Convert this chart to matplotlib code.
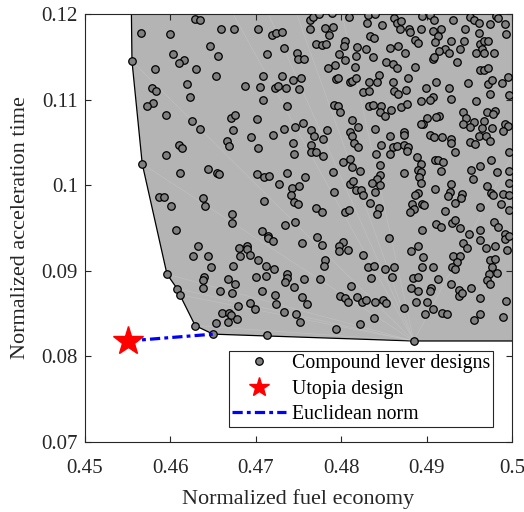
import matplotlib

matplotlib.use("Agg")
import matplotlib.pyplot as plt
from matplotlib.lines import Line2D

# compound lever designs (normalized fuel economy, normalized acceleration time)
fuel_economy = [
    # upper left block
    0.4629, 0.4635, 0.4566, 0.4599, 0.4659, 0.4646, 0.4603, 0.4616, 0.4610, 0.4656,
    0.4555, 0.4582, 0.4630, 0.4653, 0.4619, 0.4579, 0.4583, 0.4623, 0.4580, 0.4573,
    0.4595, 0.4625, 0.4635, 0.4610, 0.4614,
    # upper middle block
    0.4675, 0.4702, 0.4719, 0.4724, 0.4731, 0.4733, 0.4713, 0.4748, 0.4749, 0.4756,
    0.4764, 0.4767, 0.4774, 0.4789, 0.4809, 0.4764, 0.4781, 0.4790, 0.4786, 0.4770,
    0.4778, 0.4782, 0.4804, 0.4803, 0.4798, 0.4805, 0.4818, 0.4817, 0.4793, 0.4784,
    0.4816, 0.4794, 0.4796, 0.4810, 0.4813, 0.4817, 0.4708, 0.4731, 0.4744, 0.4753,
    0.4687, 0.4705, 0.4723, 0.4726, 0.4735, 0.4751, 0.4709, 0.4737, 0.4791, 0.4796,
    0.4799, 0.4825, 0.4671, 0.4676, 0.4701, 0.4673, 0.4666, 0.4669, 0.4694, 0.4703,
    0.4720, 0.4733, 0.4746, 0.4755, 0.4744, 0.4765, 0.4768, 0.4783, 0.4779, 0.4765,
    0.4813, 0.4820, 0.4810, 0.4813, 0.4815, 0.4820,
    # upper right block
    0.4831, 0.4840, 0.4830, 0.4848, 0.4862, 0.4865, 0.4870, 0.4869, 0.4879, 0.4881,
    0.4895, 0.4904, 0.4909, 0.4894, 0.4908, 0.4917, 0.4913, 0.4910, 0.4931, 0.4929,
    0.4945, 0.4951, 0.4956, 0.4961, 0.4981, 0.4984, 0.4974, 0.4992, 0.4993, 0.4961,
    0.4944, 0.4963, 0.4967, 0.4972, 0.4965, 0.4967, 0.4958, 0.4979, 0.4939, 0.4936,
    0.4921, 0.4926, 0.4915, 0.4907, 0.4909, 0.4887, 0.4890, 0.4867, 0.4857, 0.4875,
    0.4834, 0.4838, 0.4829, 0.4837, 0.4853, 0.4861, 0.4865, 0.4887, 0.4963, 0.4967,
    0.4972, 0.4844, 0.4833, 0.4842, 0.4861, 0.4878, 0.4899, 0.4911, 0.4926, 0.4948,
    0.4972, 0.4977, 0.4988, 0.4995, 0.4833, 0.4862, 0.4867, 0.4876, 0.4974, 0.4997,
    0.4907, 0.4904, 0.4894, 0.4929, 0.4958, 0.4833, 0.4837, 0.4847, 0.4870, 0.4877,
    0.4846, 0.4851, 0.4858, 0.4943, 0.4946, 0.4943, 0.4955, 0.4967, 0.4971, 0.4980,
    0.4978, 0.4992, 0.4995, 0.4951, 0.4965, 0.4977, 0.4989, 0.4915, 0.4911, 0.4900,
    0.4896, 0.4894, 0.4840, 0.4874, 0.4873, 0.4857, 0.4904, 0.4909, 0.4918, 0.4928,
    0.4929, 0.4961, 0.4969, 0.4974, 0.4951, 0.4957, 0.4847, 0.4861, 0.4865, 0.4874,
    0.4878,
    # middle left block
    0.4595, 0.4567, 0.4611, 0.4644, 0.4655, 0.4657, 0.4587, 0.4593, 0.4601, 0.4638,
    0.4641, 0.4607, 0.4632, 0.4627, 0.4644, 0.4648, 0.4596, 0.4639, 0.4638, 0.4608,
    0.4638,
    # centre block
    0.4745, 0.4765, 0.4771, 0.4779, 0.4802, 0.4810, 0.4813, 0.4822, 0.4790, 0.4701,
    0.4710, 0.4715, 0.4736, 0.4758, 0.4727, 0.4742, 0.4751, 0.4741, 0.4745, 0.4749,
    0.4710, 0.4770, 0.4778, 0.4810, 0.4814, 0.4817, 0.4823, 0.4825, 0.4791, 0.4804,
    0.4809, 0.4672, 0.4672, 0.4734, 0.4746, 0.4707, 0.4714, 0.4714, 0.4720, 0.4772,
    0.4754, 0.4778, 0.4802, 0.4798, 0.4797, 0.4808, 0.4826, 0.4680, 0.4690, 0.4690,
    0.4681, 0.4693, 0.4702, 0.4673, 0.4712, 0.4721, 0.4781, 0.4780, 0.4667, 0.4676,
    0.4700, 0.4712, 0.4736, 0.4737, 0.4734, 0.4757, 0.4775, 0.4745, 0.4811,
    # middle right block
    0.4841, 0.4857, 0.4877, 0.4889, 0.4894, 0.4890, 0.4893, 0.4891, 0.4893, 0.4910,
    0.4913, 0.4919, 0.4917, 0.4933, 0.4845, 0.4874, 0.4952, 0.4963, 0.4975, 0.4983,
    0.4997, 0.4997, 0.4954, 0.4845, 0.4842, 0.4836, 0.4845, 0.4840, 0.4834, 0.4844,
    0.4842, 0.4890, 0.4887, 0.4883, 0.4885, 0.4880, 0.4895, 0.4897, 0.4910, 0.4929,
    0.4927, 0.4925, 0.4933, 0.4942, 0.4940, 0.4921, 0.4971, 0.4975, 0.4978, 0.4989,
    0.4997, 0.4997, 0.4963, 0.4987, 0.4997, 0.4911, 0.4917, 0.4930, 0.4933, 0.4939,
    0.4895, 0.4856, 0.4950, 0.4962, 0.4962, 0.4979, 0.4984, 0.4992, 0.4992, 0.4997,
    0.4943, 0.4947, 0.4970, 0.4980, 0.4890, 0.4882, 0.4896, 0.4931, 0.4939, 0.4936,
    0.4930, 0.4933, 0.4974, 0.4980, 0.4977, 0.4982, 0.4973, 0.4971, 0.4974, 0.4994,
    0.4831, 0.4838, 0.4835, 0.4851, 0.4859, 0.4862, 0.4895, 0.4908, 0.4884, 0.4890,
    0.4913, 0.4928, 0.4882, 0.4905, 0.4938, 0.4952,
    # bottom row
    0.4611, 0.4658, 0.4661, 0.4653, 0.4629, 0.4650, 0.4672, 0.4707, 0.4722, 0.4754,
    0.4760, 0.4669, 0.4671, 0.4667, 0.4678, 0.4679, 0.4693, 0.4699, 0.4724, 0.4733,
    0.4747, 0.4752, 0.4799, 0.4804, 0.4808, 0.4819, 0.4824, 0.4822, 0.4794, 0.4713,
    0.4829, 0.4840, 0.4849, 0.4853, 0.4838, 0.4873, 0.4888, 0.4900, 0.4898, 0.4908,
    0.4918, 0.4924, 0.4890, 0.4904, 0.4938, 0.4942, 0.4962, 0.4956, 0.4963, 0.4989,
    0.4993, 0.4885,
]
accel_time = [
    # upper left block
    0.1194, 0.1193, 0.1178, 0.1177, 0.1182, 0.1163, 0.1153, 0.1146, 0.1143, 0.1151,
    0.1145, 0.1136, 0.1136, 0.1128, 0.1118, 0.1113, 0.1110, 0.1103, 0.1096, 0.1092,
    0.1082, 0.1075, 0.1066, 0.1047, 0.1043,
    # upper middle block
    0.1182, 0.1183, 0.1176, 0.1178, 0.1179, 0.1160, 0.1153, 0.1155, 0.1147, 0.1148,
    0.1193, 0.1196, 0.1200, 0.1201, 0.1197, 0.1183, 0.1184, 0.1185, 0.1176, 0.1165,
    0.1164, 0.1165, 0.1168, 0.1163, 0.1153, 0.1146, 0.1161, 0.1151, 0.1141, 0.1137,
    0.1138, 0.1124, 0.1125, 0.1121, 0.1122, 0.1125, 0.1127, 0.1128, 0.1123, 0.1125,
    0.1116, 0.1115, 0.1114, 0.1116, 0.1114, 0.1112, 0.1100, 0.1093, 0.1094, 0.1092,
    0.1085, 0.1109, 0.1079, 0.1082, 0.1077, 0.1065, 0.1052, 0.1046, 0.1056, 0.1043,
    0.1059, 0.1066, 0.1068, 0.1073, 0.1049, 0.1065, 0.1058, 0.1064, 0.1054, 0.1047,
    0.1076, 0.1068, 0.1062, 0.1058, 0.1049, 0.1045,
    # upper right block
    0.1199, 0.1200, 0.1189, 0.1187, 0.1195, 0.1190, 0.1192, 0.1183, 0.1182, 0.1179,
    0.1198, 0.1199, 0.1193, 0.1182, 0.1180, 0.1183, 0.1174, 0.1167, 0.1193, 0.1169,
    0.1183, 0.1197, 0.1193, 0.1190, 0.1198, 0.1195, 0.1188, 0.1188, 0.1177, 0.1178,
    0.1169, 0.1165, 0.1168, 0.1169, 0.1159, 0.1154, 0.1154, 0.1155, 0.1159, 0.1144,
    0.1159, 0.1154, 0.1157, 0.1148, 0.1150, 0.1170, 0.1166, 0.1163, 0.1160, 0.1154,
    0.1174, 0.1172, 0.1159, 0.1150, 0.1144, 0.1142, 0.1137, 0.1138, 0.1135, 0.1134,
    0.1137, 0.1129, 0.1121, 0.1120, 0.1120, 0.1125, 0.1114, 0.1121, 0.1114, 0.1119,
    0.1118, 0.1123, 0.1119, 0.1126, 0.1110, 0.1110, 0.1107, 0.1111, 0.1106, 0.1105,
    0.1103, 0.1099, 0.1098, 0.1101, 0.1098, 0.1093, 0.1094, 0.1093, 0.1091, 0.1095,
    0.1085, 0.1081, 0.1088, 0.1085, 0.1078, 0.1071, 0.1074, 0.1075, 0.1086, 0.1087,
    0.1083, 0.1071, 0.1069, 0.1068, 0.1067, 0.1067, 0.1063, 0.1081, 0.1080, 0.1078,
    0.1072, 0.1072, 0.1066, 0.1062, 0.1059, 0.1058, 0.1059, 0.1056, 0.1056, 0.1054,
    0.1049, 0.1058, 0.1058, 0.1052, 0.1051, 0.1048, 0.1047, 0.1045, 0.1046, 0.1047,
    0.1045,
    # middle left block
    0.1035, 0.1025, 0.1014, 0.1019, 0.1014, 0.1013, 0.0986, 0.0986, 0.0976, 0.0985,
    0.0976, 0.0948, 0.0929, 0.0917, 0.0917, 0.0904, 0.0896, 0.0893, 0.0889, 0.0879,
    0.0880,
    # centre block
    0.1036, 0.1039, 0.1039, 0.1034, 0.1027, 0.1031, 0.1021, 0.1017, 0.1015, 0.1013,
    0.1010, 0.1011, 0.1014, 0.1010, 0.1001, 0.0997, 0.0999, 0.0988, 0.0980, 0.0978,
    0.0982, 0.0973, 0.0969, 0.1001, 0.1005, 0.0994, 0.0994, 0.0989, 0.0992, 0.0969,
    0.0971, 0.0966, 0.0956, 0.0954, 0.0957, 0.0946, 0.0941, 0.0938, 0.0935, 0.0939,
    0.0932, 0.0930, 0.0934, 0.0929, 0.0923, 0.0924, 0.0918, 0.0927, 0.0929, 0.0925,
    0.0917, 0.0918, 0.0913, 0.0906, 0.0906, 0.0902, 0.0913, 0.0906, 0.0890, 0.0885,
    0.0893, 0.0894, 0.0896, 0.0892, 0.0887, 0.0890, 0.0890, 0.0881, 0.0882,
    # middle right block
    0.1037, 0.1037, 0.1040, 0.1033, 0.1025, 0.1018, 0.1016, 0.1009, 0.1002, 0.1029,
    0.1029, 0.1027, 0.1017, 0.1039, 0.1024, 0.1014, 0.1018, 0.1022, 0.1029, 0.1015,
    0.1039, 0.1017, 0.1007, 0.1012, 0.1007, 0.1002, 0.1000, 0.0992, 0.0979, 0.0973,
    0.0966, 0.0991, 0.0988, 0.0978, 0.0972, 0.0969, 0.0978, 0.0977, 0.0996, 0.1001,
    0.0992, 0.0987, 0.0979, 0.0990, 0.0985, 0.0970, 0.0999, 0.0991, 0.0988, 0.0990,
    0.0989, 0.1003, 0.0975, 0.0978, 0.0971, 0.0955, 0.0951, 0.0956, 0.0959, 0.0950,
    0.0948, 0.0938, 0.0943, 0.0948, 0.0936, 0.0957, 0.0951, 0.0943, 0.0937, 0.0941,
    0.0933, 0.0927, 0.0927, 0.0929, 0.0929, 0.0923, 0.0916, 0.0917, 0.0917, 0.0910,
    0.0905, 0.0902, 0.0913, 0.0914, 0.0905, 0.0898, 0.0896, 0.0889, 0.0884, 0.0924,
    0.0905, 0.0906, 0.0892, 0.0902, 0.0893, 0.0904, 0.0904, 0.0904, 0.0892, 0.0893,
    0.0891, 0.0885, 0.0880, 0.0880, 0.0878, 0.0880,
    # bottom row
    0.0872, 0.0876, 0.0851, 0.0839, 0.0836, 0.0826, 0.0874, 0.0876, 0.0872, 0.0869,
    0.0861, 0.0851, 0.0848, 0.0840, 0.0844, 0.0859, 0.0862, 0.0855, 0.0861, 0.0852,
    0.0849, 0.0840, 0.0871, 0.0868, 0.0863, 0.0869, 0.0864, 0.0838, 0.0832, 0.0825,
    0.0866, 0.0863, 0.0866, 0.0862, 0.0845, 0.0856, 0.0863, 0.0864, 0.0850, 0.0855,
    0.0851, 0.0849, 0.0876, 0.0876, 0.0870, 0.0874, 0.0868, 0.0843, 0.0850, 0.0846,
    0.0865, 0.0818,
]

# boundary of the design region (vertices above 0.12 / right of 0.5 lie off-axis)
hull_x = [0.4550, 0.4555, 0.4567, 0.4596, 0.4608, 0.4611, 0.4629, 0.4650, 0.4885,
          0.5300, 0.5300, 0.4779, 0.4712, 0.4618]
hull_y = [0.1570, 0.1145, 0.1025, 0.0896, 0.0879, 0.0872, 0.0836, 0.0826, 0.0818,
          0.0818, 0.1600, 0.1300, 0.1300, 0.1300]
fan_vertex = 8  # patch triangulation seams start here

utopia = (0.4550, 0.0818)
norm_end = (0.4650, 0.0826)

x_ticks = [0.45, 0.46, 0.47, 0.48, 0.49, 0.50]
x_tick_labels = ["0.45", "0.46", "0.47", "0.48", "0.49", "0.5"]
y_ticks = [0.07, 0.08, 0.09, 0.10, 0.11, 0.12]
y_tick_labels = ["0.07", "0.08", "0.09", "0.1", "0.11", "0.12"]

plt.rcParams["font.family"] = ["Liberation Serif", "DejaVu Serif"]
dark = "#262626"

fig = plt.figure(figsize=(5.24, 5.12), dpi=100)
ax = fig.add_axes([85 / 524, 70 / 512, 427 / 524, 428 / 512])

ax.fill(hull_x, hull_y, facecolor="#b4b4b4", edgecolor="black", linewidth=0.9, zorder=1)
n = len(hull_x)
for i in range(n):
    if i in (fan_vertex, (fan_vertex - 1) % n, (fan_vertex + 1) % n):
        continue
    ax.plot([hull_x[fan_vertex], hull_x[i]], [hull_y[fan_vertex], hull_y[i]],
            color="white", alpha=0.15, linewidth=0.5, zorder=1.5)

ax.plot(fuel_economy, accel_time, linestyle="none", marker="o", markersize=5.4,
        markerfacecolor="#808080", markeredgecolor="black", markeredgewidth=0.9, zorder=3)

ax.plot([utopia[0], norm_end[0]], [utopia[1], norm_end[1]], color="blue",
        linewidth=2.3, dashes=(3.2, 1.3, 1.2, 1.3), zorder=4)
ax.plot(utopia[0], utopia[1], linestyle="none", marker="*", markersize=22,
        color="red", zorder=5)

ax.set_xlim(0.45, 0.5)
ax.set_ylim(0.07, 0.12)
ax.set_xticks(x_ticks, x_tick_labels)
ax.set_yticks(y_ticks, y_tick_labels)
ax.tick_params(direction="in", top=True, right=True, length=4.5, width=0.8,
               labelsize=15, colors=dark)
ax.tick_params(axis="x", pad=12)
ax.tick_params(axis="y", pad=5)
for s in ax.spines.values():
    s.set_color(dark)
    s.set_linewidth(0.8)

ax.set_xlabel("Normalized fuel economy", fontsize=16, color=dark, labelpad=8)
ax.set_ylabel("Normalized acceleration time", fontsize=16, color=dark, labelpad=8)

handles = [
    Line2D([], [], linestyle="none", marker="o", markersize=5.4, markerfacecolor="#808080",
           markeredgecolor="black", markeredgewidth=0.9),
    Line2D([], [], linestyle="none", marker="*", markersize=15, color="red"),
    Line2D([], [], color="blue", linewidth=2.3, dashes=(3.2, 1.3, 1.2, 1.3)),
]
labels = ["Compound lever designs", "Utopia design", "Euclidean norm"]
leg = ax.legend(handles, labels, loc="lower right", bbox_to_anchor=(0.955, 0.035),
                borderaxespad=0, fontsize=14.3, handlelength=2.7, handletextpad=0.3,
                labelspacing=0.32, borderpad=0.15, fancybox=False, framealpha=1,
                edgecolor=dark)
leg.get_frame().set_linewidth(0.8)
for t in leg.get_texts():
    t.set_color("black")

fig.savefig("out.png", dpi=100)
